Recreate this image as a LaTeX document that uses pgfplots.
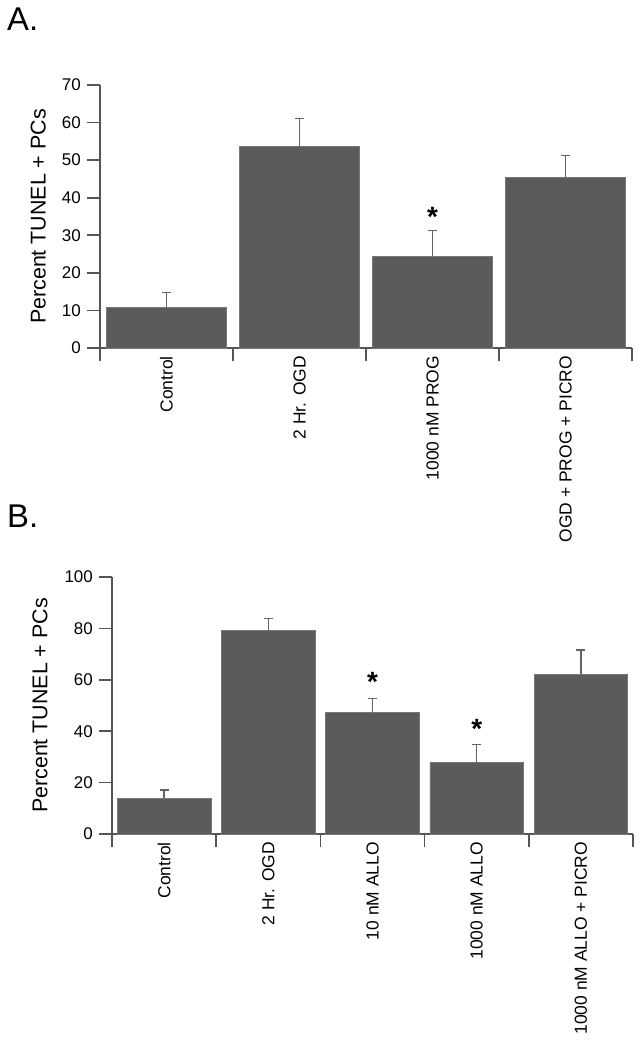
\documentclass[border=0pt]{standalone}
\usepackage{pgfplots}
\pgfplotsset{compat=1.18}
\usepackage{fontspec}
\setmainfont{Liberation Sans}
\definecolor{axisgray}{RGB}{85,85,85}
\definecolor{barfill}{RGB}{91,91,91}
\definecolor{bardraw}{RGB}{120,120,120}
\definecolor{errgray}{RGB}{100,100,100}
\tikzset{star/.style={font=\fontsize{28}{28}\selectfont\bfseries, inner sep=0pt}}
\pgfplotsset{
  panel/.style={
    scale only axis,
    axis x line*=bottom, axis y line*=left,
    axis line style={-, draw=axisgray, line width=1.7bp},
    tick align=outside,
    major tick length=13bp,
    tick style={draw=axisgray, line width=1.7bp},
    ymin=0,
    /pgf/number format/assume math mode=true,
    yticklabel style={font=\fontsize{17}{20}\selectfont, inner sep=2bp, xshift=-4bp},
    xticklabels={},
    extra x tick style={tick style={draw=none},
      xticklabel style={rotate=90, anchor=east, font=\fontsize{17.5}{20}\selectfont, inner sep=0pt, xshift=5bp}},
    ylabel={Percent TUNEL + PCs},
    ylabel style={font=\fontsize{21.5}{24}\selectfont, anchor=center},
    clip=false,
  },
  bars/.style={
    ybar, bar width=0.9, fill=barfill, draw=bardraw, line width=0.6bp,
    error bars/.cd, y dir=plus, y explicit,
    error bar style={draw=errgray, line width=1.4bp},
    error mark options={draw=errgray, line width=1.4bp, rotate=90, mark size=4.5bp},
  },
}
\pgfplotstableread{
x y e
1 10.9 3.8
2 53.6 7.5
3 24.4 6.9
4 45.5 5.7
}\dataA
\pgfplotstableread{
x y e
1 13.9 3.3
2 79.1 4.7
3 47.2 5.5
4 27.8 7.0
5 62.2 9.4
}\dataB
\begin{document}
\begin{tikzpicture}
\useasboundingbox (0,0) rectangle (643bp,-1050bp);
\node[anchor=north west, font=\fontsize{33}{33}\selectfont, inner sep=0pt] at (7bp,-8bp) {A.};
\node[anchor=north west, font=\fontsize{33}{33}\selectfont, inner sep=0pt] at (7bp,-505bp) {B.};
\begin{axis}[panel,
  at={(100bp,-348bp)}, anchor=south west,
  width=532bp, height=263bp,
  xmin=0.5, xmax=4.5, ymax=70,
  ytick={0,10,...,70},
  xtick={0.5,1.5,2.5,3.5,4.5},
  extra x ticks={1,2,3,4},
  extra x tick labels={Control,2 Hr. OGD,1000 nM PROG,OGD + PROG + PICRO},
  ylabel style={at={(axis description cs:-0.116,0.5)}},
]
\addplot[bars] table[x=x, y=y, y error=e] {\dataA};
\node[star] at (axis cs:3,35) {*};
\end{axis}
\begin{axis}[panel,
  at={(112bp,-834bp)}, anchor=south west,
  width=521bp, height=257bp,
  xmin=0.5, xmax=5.5, ymax=100,
  ytick={0,20,...,100},
  xtick={0.5,1.5,2.5,3.5,4.5,5.5},
  extra x ticks={1,2,3,4,5},
  extra x tick labels={Control,2 Hr. OGD,10 nM ALLO,1000 nM ALLO,1000 nM ALLO + PICRO},
  ylabel style={at={(axis description cs:-0.138,0.5)}},
]
\addplot[bars] table[x=x, y=y, y error=e] {\dataB};
\node[star] at (axis cs:3,59) {*};
\node[star] at (axis cs:4,41) {*};
\end{axis}
\end{tikzpicture}
\end{document}
